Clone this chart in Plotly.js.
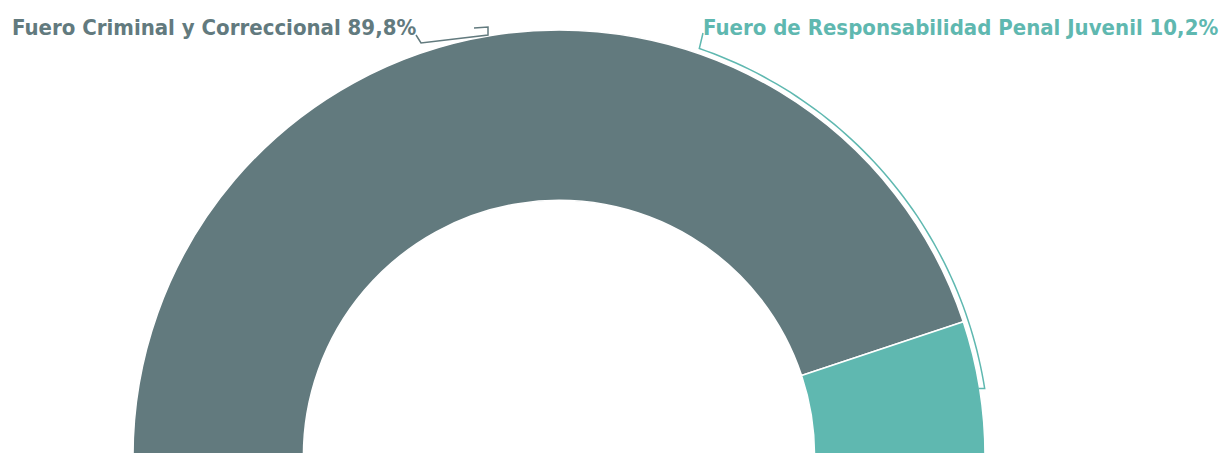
<!DOCTYPE html>
<html>
<head>
<meta charset="utf-8">
<script src="https://cdn.plot.ly/plotly-3.0.1.min.js"></script>
<style>
  html, body { margin: 0; padding: 0; overflow: hidden; background: #fff; }
  #chart { width: 1225px; height: 912px; }
</style>
</head>
<body>
<div id="chart"></div>
<script>
// Data
const categories = ["Fuero Criminal y Correccional", "Fuero de Responsabilidad Penal Juvenil"];
const values = [89.8, 10.2];
const valueLabels = ["89,8%", "10,2%"];
const colors = ["#627a7e", "#5fb8b0"];

// Geometry of the half donut (pixels in a 1225 x 912 canvas, only top half shown)
const W = 1225, H = 912;
const cx = 559, cy = 456, R = 426;

const total = values.reduce((a, b) => a + b, 0);

const pie = {
  type: "pie",
  values: values.concat([total]),          // hidden lower half
  labels: categories.concat(["_hidden"]),
  sort: false,
  direction: "clockwise",
  rotation: -90,
  hole: 0.6,
  textinfo: "none",
  hoverinfo: "none",
  showlegend: false,
  marker: {
    colors: colors.concat(["rgba(0,0,0,0)"]),
    line: { color: ["#ffffff", "#ffffff", "rgba(0,0,0,0)"], width: [1.5, 1.5, 0] }
  },
  domain: {
    x: [(cx - R) / W, (cx + R) / W],
    y: [(H - cy - R) / H, (H - cy + R) / H]
  }
};

// Helper: point at angle (degrees from the positive x axis, counter-clockwise) and radius
function pt(angDeg, r) {
  const a = angDeg * Math.PI / 180;
  return [cx + r * Math.cos(a), cy - r * Math.sin(a)];
}
function arcPath(a0, a1, r, steps) {
  let d = "";
  for (let i = 0; i <= steps; i++) {
    const a = a0 + (a1 - a0) * i / steps;
    const p = pt(a, r);
    d += (i === 0 ? "M" : "L") + p[0].toFixed(1) + "," + p[1].toFixed(1);
  }
  return d;
}

// Brackets (decorative leader lines)
const rb = 431;
const pJ1 = pt(71, rb), pJ2 = pt(9, rb);
const juvPath = "M703,33 L" + pJ1[0].toFixed(1) + "," + pJ1[1].toFixed(1) + " " +
  arcPath(71, 9, rb, 60).replace(/^M/, "L") + " L" + (pJ2[0] - 6).toFixed(1) + "," + pJ2[1].toFixed(1);
const crimPath = "M416,35 L421,43 L488,35 L488,27 L474,28";

const fontFam = "'Liberation Sans Narrow', 'DejaVu Sans Condensed', sans-serif";

const layout = {
  width: W, height: H,
  margin: { l: 0, r: 0, t: 0, b: 0 },
  paper_bgcolor: "#ffffff",
  plot_bgcolor: "rgba(0,0,0,0)",
  showlegend: false,
  xaxis: { range: [0, W], visible: false, fixedrange: true },
  yaxis: { range: [H, 0], visible: false, fixedrange: true },
  shapes: [
    { type: "path", xref: "x", yref: "y", path: crimPath, line: { color: colors[0], width: 1.5 } },
    { type: "path", xref: "x", yref: "y", path: juvPath, line: { color: colors[1], width: 1.5 } }
  ],
  annotations: [
    {
      xref: "x", yref: "y", x: 10, y: 27, xanchor: "left", yanchor: "middle",
      text: "<b>" + categories[0] + " " + valueLabels[0] + "</b>",
      showarrow: false, font: { family: fontFam, size: 22, color: colors[0] }
    },
    {
      xref: "x", yref: "y", x: 1220, y: 27, xanchor: "right", yanchor: "middle",
      text: "<b>" + categories[1] + " " + valueLabels[1] + "</b>",
      showarrow: false, font: { family: fontFam, size: 22, color: colors[1] }
    }
  ]
};

Plotly.newPlot("chart", [pie], layout, { displayModeBar: false, staticPlot: true });
</script>
</body>
</html>
